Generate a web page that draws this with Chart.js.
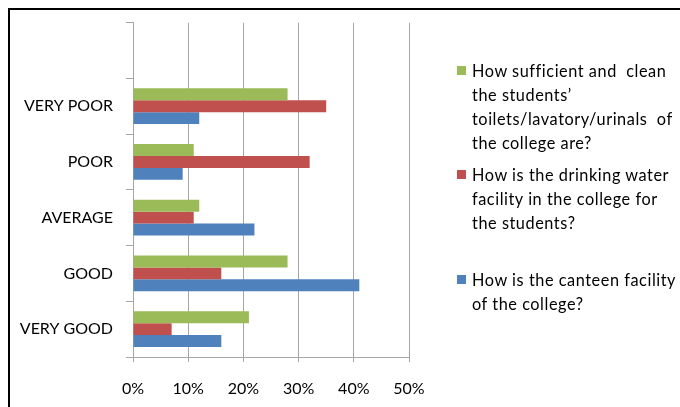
<!DOCTYPE html>
<html>
<head>
<meta charset="utf-8">
<script src="https://cdn.jsdelivr.net/npm/chart.js@4"></script>
<style>
  body { margin: 0; background: #fff; }
  #wrap { position: relative; width: 680px; height: 407px; overflow: hidden; }
  #frame { position: absolute; left: 8px; top: 8px; width: 700px; height: 420px;
           border-top: 2.5px solid #000; border-left: 2.5px solid #000; }
  #legend { position: absolute; left: 457px; top: 59px; font-family: Lato, sans-serif;
            font-size: 16.3px; letter-spacing: 0.55px; line-height: 24px; color: #000; }
  .item { position: absolute; left: 0; white-space: pre; }
  .box { position: absolute; left: 0; top: 7px; width: 9px; height: 9px; }
  .txt { position: absolute; left: 15px; top: 0; }
</style>
</head>
<body>
<div id="wrap">
  <div id="frame"></div>
  <canvas id="c" width="680" height="407" style="position:absolute;left:0;top:0"></canvas>
  <div id="legend"></div>
</div>
<script>
// categories, top to bottom (first slot is empty in the original)
const categories = ['', 'VERY POOR', 'POOR', 'AVERAGE', 'GOOD', 'VERY GOOD'];

// percentages per series, same order as categories
const toiletValues  = [null, 28, 11, 12, 28, 21];
const waterValues   = [null, 35, 32, 11, 16, 7];
const canteenValues = [null, 12, 9, 22, 41, 16];

const seriesNames = [
  ['How sufficient and  clean', 'the students\u2019', 'toilets/lavatory/urinals  of', 'the college are?'],
  ['How is the drinking water', 'facility in the college for', 'the students?'],
  ['How is the canteen facility', 'of the college?']
];
const seriesColors = ['#9BBB59', '#C0504D', '#4F81BD'];
const legendTops = [0, 104, 209];

const xTicks = [0, 10, 20, 30, 40, 50];

// legend as html text
const legendEl = document.getElementById('legend');
seriesNames.forEach((lines, i) => {
  const div = document.createElement('div');
  div.className = 'item';
  div.style.top = legendTops[i] + 'px';
  div.innerHTML = `<span class="box" style="background:${seriesColors[i]}"></span>` +
                  `<span class="txt">${lines.join('\n')}</span>`;
  legendEl.appendChild(div);
});

const ctx = document.getElementById('c').getContext('2d');
new Chart(ctx, {
  type: 'bar',
  data: {
    labels: categories,
    datasets: [
      { label: seriesNames[0].join(' '), data: toiletValues,  backgroundColor: seriesColors[0] },
      { label: seriesNames[1].join(' '), data: waterValues,   backgroundColor: seriesColors[1] },
      { label: seriesNames[2].join(' '), data: canteenValues, backgroundColor: seriesColors[2] }
    ]
  },
  options: {
    indexAxis: 'y',
    responsive: false,
    animation: false,
    datasets: { bar: { categoryPercentage: 0.64, barPercentage: 1.0 } },
    layout: { padding: { left: 0, top: 20, right: 271, bottom: 0 } },
    plugins: { legend: { display: false }, tooltip: { enabled: false } },
    scales: {
      x: {
        min: 0, max: 50,
        afterBuildTicks: s => { s.ticks = xTicks.map(v => ({ value: v })); },
        afterFit: s => { s.height = 50; },
        grid: { color: '#A6A6A6', lineWidth: 1, tickLength: 5, drawTicks: true },
        border: { color: '#A6A6A6' },
        ticks: {
          callback: v => v + '%',
          color: '#000',
          padding: 17,
          font: { family: 'Lato', size: 16 }
        }
      },
      y: {
        afterFit: s => { s.width = 133; },
        grid: { offset: true, drawOnChartArea: false, color: '#A6A6A6', tickLength: 7 },
        border: { color: '#A6A6A6' },
        ticks: {
          color: '#000',
          padding: 13,
          font: { family: 'Lato', size: 16 }
        }
      }
    }
  }
});
</script>
</body>
</html>
